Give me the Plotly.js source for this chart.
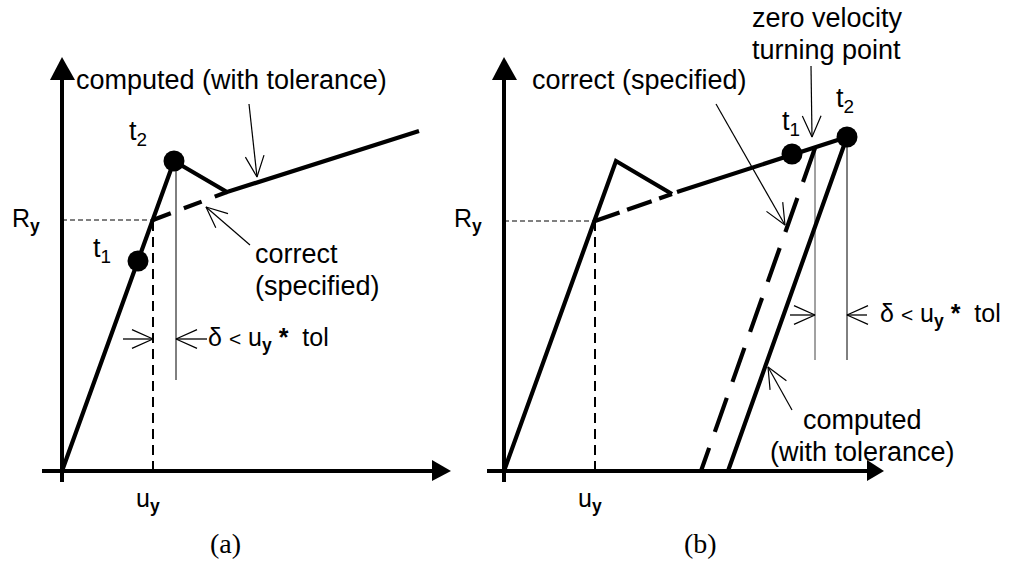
<!DOCTYPE html>
<html>
<head>
<meta charset="utf-8">
<script src="https://cdn.plot.ly/plotly-3.0.1.min.js"></script>
<style>
  html, body { margin: 0; padding: 0; background: #fff; }
  #chart { width: 1015px; height: 561px; }
</style>
</head>
<body>
<div id="chart"></div>
<script>
// Units are displacement (u) and resistance (R), measured from each panel's origin.

// ---- Panel (a): overshoot during loading ----
const aComputedU = [0, 112, 165, 357];
const aComputedR = [0, 310, 279, 340];
const aCorrectU = [91, 165];
const aCorrectR = [251, 279];
const aStepU = [76, 112];
const aStepR = [210, 310];
const aStepLabels = ['t<sub>1</sub>', 't<sub>2</sub>'];
const aYieldU = 91;
const aYieldR = 251;
const aStepLineU = 114;

// ---- Panel (b): overshoot at a velocity reversal ----
const bComputedU = [0, 112, 168, null, 173, 343, 224];
const bComputedR = [0, 310, 277, null, 279, 334, 0];
const bCorrectU = [91, 168, null, 311, 197];
const bCorrectR = [250, 277, null, 323, 0];
const bStepU = [288, 343];
const bStepR = [317, 334];
const bStepLabels = ['t<sub>1</sub>', 't<sub>2</sub>'];
const bYieldU = 91;
const bYieldR = 250;
const bTurnU = 311;
const bTurnR = 323;

const FONT = 'Liberation Sans, Arial, sans-serif';
const SERIF = 'Liberation Serif, Times New Roman, serif';
const THICK = 4.2;
const TXT = 27;

const traces = [];

function line(xs, ys, ax, style) {
  traces.push({
    type: 'scatter', mode: 'lines', x: xs, y: ys,
    xaxis: ax === 2 ? 'x2' : 'x', yaxis: ax === 2 ? 'y2' : 'y',
    line: Object.assign({color: '#000', width: 1}, style),
    connectgaps: false, hoverinfo: 'skip', showlegend: false
  });
}

// Thin pointer with an open V head at (x1, y1)
function pointer(x0, y0, x1, y1, ax, w) {
  const dx = x1 - x0, dy = y1 - y0;
  const len = Math.hypot(dx, dy);
  const ux = dx / len, uy = dy / len;
  const L = 23, th = 24 * Math.PI / 180;
  const c = Math.cos(th), s = Math.sin(th);
  const a1x = x1 - L * (ux * c - uy * s), a1y = y1 - L * (ux * s + uy * c);
  const a2x = x1 - L * (ux * c + uy * s), a2y = y1 - L * (-ux * s + uy * c);
  line([x0, x1, null, a1x, x1, a2x], [y0, y1, null, a1y, y1, a2y], ax, {width: w || 1.2});
}

function markers(xs, ys, ax) {
  traces.push({
    type: 'scatter', mode: 'markers', x: xs, y: ys,
    xaxis: ax === 2 ? 'x2' : 'x', yaxis: ax === 2 ? 'y2' : 'y',
    marker: {color: '#000', size: 21}, hoverinfo: 'skip', showlegend: false
  });
}

// Axes
line([0, 0], [-11, 395], 1, {width: 4});
line([-20, 372], [0, 0], 1, {width: 4});
line([0, 0], [-11, 395], 2, {width: 4});
line([-17, 365], [0, 0], 2, {width: 4});

// Panel (a)
line([0, aYieldU], [aYieldR, aYieldR], 1, {width: 1, dash: '5px,3px'});
line([aYieldU, aYieldU], [0, aYieldR], 1, {width: 2, dash: '10px,6px'});
line([aStepLineU, aStepLineU], [aStepR[1], 91], 1, {width: 1});
line(aCorrectU, aCorrectR, 1, {width: THICK, dash: '19px,14px'});
line(aComputedU, aComputedR, 1, {width: THICK});
markers(aStepU, aStepR, 1);
pointer(187, 367, 195, 294, 1);
pointer(188, 226, 144, 264, 1);
pointer(61, 132, aYieldU, 132, 1, 1.3);
pointer(145, 132, aStepLineU, 132, 1, 1.3);

// Panel (b)
line([0, bYieldU], [bYieldR, bYieldR], 2, {width: 1, dash: '5px,3px'});
line([bYieldU, bYieldU], [0, bYieldR], 2, {width: 2, dash: '10px,6px'});
line([bTurnU, bTurnU], [bTurnR, 111], 2, {width: 1, color: '#444'});
line([bStepU[1], bStepU[1]], [bStepR[1], 111], 2, {width: 1});
line(bCorrectU.slice(0, 2), bCorrectR.slice(0, 2), 2, {width: THICK, dash: '26px,8px'});
line(bCorrectU.slice(3), bCorrectR.slice(3), 2, {width: THICK, dash: '36px,17px'});
line(bComputedU, bComputedR, 2, {width: THICK});
markers(bStepU, bStepR, 2);
pointer(307, 405, 308, 334, 2);
pointer(212, 367, 281, 246, 2);
pointer(288, 61, 264, 104, 2);
pointer(286, 156, bTurnU, 156, 2, 1.3);
pointer(363, 156, bStepU[1], 156, 2, 1.3);

// Axis arrowheads
const heads = [
  ['x', 'y', 'M -12,391 L 13,391 L 0,414 Z'],
  ['x', 'y', 'M 370,-10 L 370,11 L 389,0 Z'],
  ['x2', 'y2', 'M -12,391 L 13,391 L 0,414 Z'],
  ['x2', 'y2', 'M 363,-10 L 363,11 L 380,0 Z']
].map(([xr, yr, p]) => ({type: 'path', xref: xr, yref: yr, path: p,
  fillcolor: '#000', line: {color: '#000', width: 0}}));

function label(text, x, y, ax, opts) {
  return Object.assign({
    text: text, x: x, y: y, xref: ax === 2 ? 'x2' : 'x', yref: ax === 2 ? 'y2' : 'y',
    showarrow: false, xanchor: 'left', yanchor: 'middle',
    font: {family: FONT, size: TXT, color: '#000'}
  }, opts || {});
}
const small = {font: {family: FONT, size: 25, color: '#000'}};

const DELTA = 'δ <span style="font-size:21px">&lt;</span> u<sub><b>y</b></sub> <b>*</b>&nbsp; tol';

const annotations = [
  // (a)
  label('computed (with tolerance)', 12, 391, 1),
  label(aStepLabels[1], 65, 338, 1),
  label(aStepLabels[0], 29, 221, 1),
  label('correct', 191, 217, 1),
  label('(specified)', 191, 185, 1),
  label('R<sub><b>y</b></sub>', -52, 251, 1, small),
  label('u<sub><b>y</b></sub>', 86, -29, 1, Object.assign({xanchor: 'center'}, small)),
  label(DELTA, 144, 132, 1, small),
  label('(a)', 163, -72, 1, {xanchor: 'center', font: {family: SERIF, size: 28, color: '#000'}}),
  // (b)
  label('zero velocity', 246, 453, 2),
  label('turning point', 246, 421, 2),
  label('correct (specified)', 26, 391, 2),
  label(bStepLabels[0], 276, 348, 2),
  label(bStepLabels[1], 330, 371, 2),
  label('R<sub><b>y</b></sub>', -52, 251, 2, small),
  label('u<sub><b>y</b></sub>', 86, -29, 2, Object.assign({xanchor: 'center'}, small)),
  label(DELTA, 374, 156, 2, small),
  label('computed', 358, 51, 2, {xanchor: 'center'}),
  label('(with tolerance)', 358, 19, 2, {xanchor: 'center'}),
  label('(b)', 196, -72, 2, {xanchor: 'center', font: {family: SERIF, size: 28, color: '#000'}})
];

const hidden = {visible: false, showgrid: false, zeroline: false, fixedrange: true};

const layout = {
  width: 1015, height: 561,
  margin: {l: 0, r: 0, t: 0, b: 0, pad: 0},
  paper_bgcolor: '#fff', plot_bgcolor: '#fff',
  showlegend: false,
  xaxis: Object.assign({range: [-62, 953], domain: [0, 1]}, hidden),
  yaxis: Object.assign({range: [-90, 471], domain: [0, 1]}, hidden),
  xaxis2: Object.assign({range: [-504, 511], overlaying: 'x', anchor: 'y2'}, hidden),
  yaxis2: Object.assign({range: [-90, 471], overlaying: 'y', anchor: 'x2'}, hidden),
  shapes: heads,
  annotations: annotations
};

Plotly.newPlot('chart', traces, layout, {staticPlot: true, displayModeBar: false});
</script>
</body>
</html>
